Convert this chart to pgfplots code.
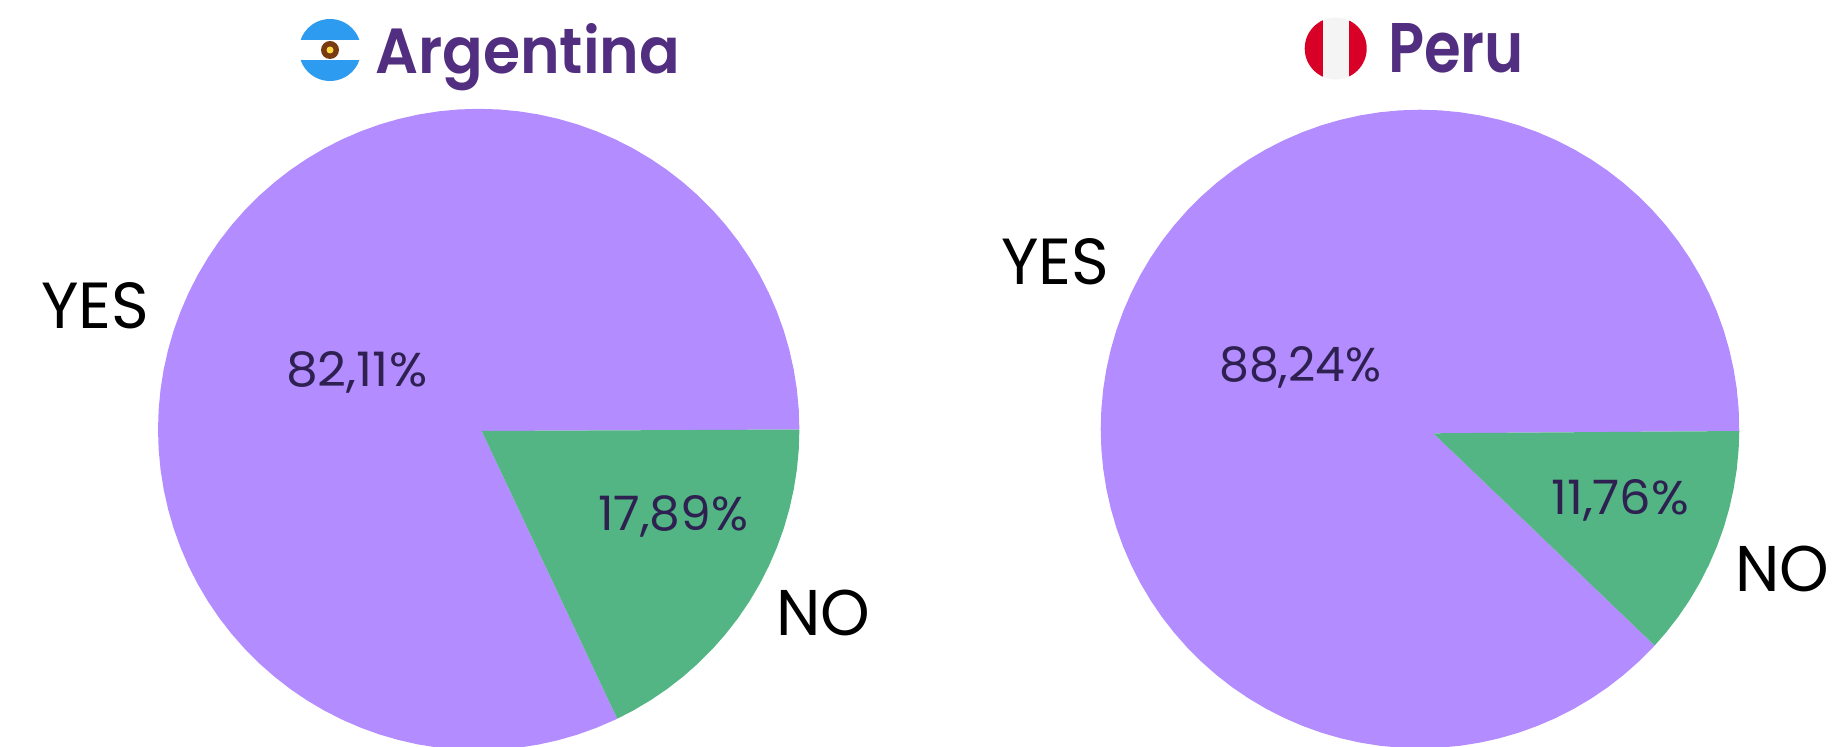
\documentclass[border=0pt]{standalone}
\usepackage{graphicx}
\usepackage{pgfplots}
\usepackage{pgfplotstable}
\usepackage{fontspec}
\pgfplotsset{compat=1.18}
\setmainfont{Poppins}
\newfontfamily\titlefont{Poppins SemiBold}
\definecolor{yescol}{HTML}{B38CFF}
\definecolor{nocol}{HTML}{53B584}
\definecolor{titlecol}{HTML}{522E80}
\definecolor{valcol}{HTML}{2E2152}
\definecolor{skyblue}{HTML}{2D9CF0}
\definecolor{sunbrown}{HTML}{7A3A10}
\definecolor{sunyellow}{HTML}{FFDA44}
\definecolor{perured}{HTML}{D80027}
\definecolor{peruwhite}{HTML}{F4F4F4}

% Slice outlines: share of the pie in percent, radius as a fraction of the pie.
% The first row of each table is where the two slices meet.
\pgfplotstableread[row sep=\\]{
pct r\\
7.39 0.0104\\
0 1\\ 1 1\\ 2 1\\ 3 1\\ 4 1\\ 5 1\\ 6 1\\ 7 1\\ 8 1\\ 9 1\\ 10 1\\ 11 1\\ 12 1\\
13 1\\ 14 1\\ 15 1\\ 16 1\\ 17 1\\ 17.89 1\\
}\argNo
\pgfplotstableread[row sep=\\]{
pct r\\
7.39 0.0104\\
17.89 1\\ 18 1\\ 19 1\\ 20 1\\ 21 1\\ 22 1\\ 23 1\\ 24 1\\ 25 1\\ 26 1\\ 27 1\\ 28 1\\
29 1\\ 30 1\\ 31 1\\ 32 1\\ 33 1\\ 34 1\\ 35 1\\ 36 1\\ 37 1\\ 38 1\\ 39 1\\ 40 1\\
41 1\\ 42 1\\ 43 1\\ 44 1\\ 45 1\\ 46 1\\ 47 1\\ 48 1\\ 49 1\\ 50 1\\ 51 1\\ 52 1\\
53 1\\ 54 1\\ 55 1\\ 56 1\\ 57 1\\ 58 1\\ 59 1\\ 60 1\\ 61 1\\ 62 1\\ 63 1\\ 64 1\\
65 1\\ 66 1\\ 67 1\\ 68 1\\ 69 1\\ 70 1\\ 71 1\\ 72 1\\ 73 1\\ 74 1\\ 75 1\\ 76 1\\
77 1\\ 78 1\\ 79 1\\ 80 1\\ 81 1\\ 82 1\\ 83 1\\ 84 1\\ 85 1\\ 86 1\\ 87 1\\ 88 1\\
89 1\\ 90 1\\ 91 1\\ 92 1\\ 93 1\\ 94 1\\ 95 1\\ 96 1\\ 97 1\\ 98 1\\ 99 1\\ 100 1\\
}\argYes
\pgfplotstableread[row sep=\\]{
pct r\\
4.97 0.0438\\
0.1 1\\ 1 1\\ 2 1\\ 3 1\\ 4 1\\ 5 1\\ 6 1\\ 7 1\\ 8 1\\ 9 1\\ 10 1\\ 11 1\\ 11.86 1\\
}\peruNo
\pgfplotstableread[row sep=\\]{
pct r\\
4.97 0.0438\\
11.86 1\\ 12 1\\ 13 1\\ 14 1\\ 15 1\\ 16 1\\ 17 1\\ 18 1\\ 19 1\\ 20 1\\ 21 1\\ 22 1\\
23 1\\ 24 1\\ 25 1\\ 26 1\\ 27 1\\ 28 1\\ 29 1\\ 30 1\\ 31 1\\ 32 1\\ 33 1\\ 34 1\\
35 1\\ 36 1\\ 37 1\\ 38 1\\ 39 1\\ 40 1\\ 41 1\\ 42 1\\ 43 1\\ 44 1\\ 45 1\\ 46 1\\
47 1\\ 48 1\\ 49 1\\ 50 1\\ 51 1\\ 52 1\\ 53 1\\ 54 1\\ 55 1\\ 56 1\\ 57 1\\ 58 1\\
59 1\\ 60 1\\ 61 1\\ 62 1\\ 63 1\\ 64 1\\ 65 1\\ 66 1\\ 67 1\\ 68 1\\ 69 1\\ 70 1\\
71 1\\ 72 1\\ 73 1\\ 74 1\\ 75 1\\ 76 1\\ 77 1\\ 78 1\\ 79 1\\ 80 1\\ 81 1\\ 82 1\\
83 1\\ 84 1\\ 85 1\\ 86 1\\ 87 1\\ 88 1\\ 89 1\\ 90 1\\ 91 1\\ 92 1\\ 93 1\\ 94 1\\
95 1\\ 96 1\\ 97 1\\ 98 1\\ 99 1\\ 100.1 1\\
}\peruYes

\pgfplotsset{
  pie panel/.style={
    scale only axis, hide axis, clip=true, width=760pt, height=687pt,
    anchor=south west,
  },
  slice/.style={
    data cs=polar, draw=none, fill=#1, no marks,
  },
}
% Text set to an exact width and height: x, baseline y, width, height, content
\newcommand{\TitleText}[5]{\node[anchor=base west,inner sep=0pt,text=titlecol]
  at (#1pt,#2pt) {\resizebox{#3pt}{#4pt}{\titlefont\fontsize{64}{64}\selectfont #5}};}
\newcommand{\ValueText}[5]{\node[anchor=base west,inner sep=0pt,text=valcol]
  at (#1pt,#2pt) {\resizebox{#3pt}{#4pt}{\fontsize{46}{46}\selectfont #5}};}
\newcommand{\NameText}[5]{\node[anchor=base west,inner sep=0pt,text=black]
  at (#1pt,#2pt) {\resizebox{#3pt}{#4pt}{\fontsize{60}{60}\selectfont #5}};}

\begin{document}
\begin{tikzpicture}[x=1pt,y=1pt]
\useasboundingbox (0,0) rectangle (1845,747);

% Argentina
\begin{axis}[pie panel, at={(100pt,0pt)},
  xmin=-1.1809, xmax=1.1890, ymin=-0.9900, ymax=1.1522]
  \addplot[slice=yescol] table[x expr=-3.6*\thisrow{pct}, y=r] {\argYes};
  \addplot[slice=nocol] table[x expr=-3.6*\thisrow{pct}, y=r] {\argNo};
\end{axis}

% Peru
\begin{axis}[pie panel, at={(1040pt,0pt)},
  xmin=-1.1901, xmax=1.1901, ymin=-0.9959, ymax=1.1557]
  \addplot[slice=yescol] table[x expr=-3.6*\thisrow{pct}, y=r] {\peruYes};
  \addplot[slice=nocol] table[x expr=-3.6*\thisrow{pct}, y=r] {\peruNo};
\end{axis}

% Flag of Argentina
\begin{scope}
  \clip (330,697) circle (31);
  \fill[skyblue] (295,707) rectangle (365,730);
  \fill[skyblue] (295,687) rectangle (365,664);
\end{scope}
\fill[sunbrown] (330,697) circle (9);
\fill[sunyellow] (330,697) circle (3.5);

% Flag of Peru
\begin{scope}
  \clip (1335.7,698.5) circle (31);
  \fill[perured] (1300,660) rectangle (1323,740);
  \fill[peruwhite] (1323,660) rectangle (1349,740);
  \fill[perured] (1349,660) rectangle (1370,740);
\end{scope}

\TitleText{375}{673}{305}{50}{Argentina}
\TitleText{1388}{674.3}{136}{49}{Peru}

\NameText{41}{418}{108}{46}{YES}
\NameText{1001}{462.7}{108}{46}{YES}
\NameText{776}{111.3}{94}{45.5}{NO}
\NameText{1735}{155.3}{94}{45.5}{NO}

\ValueText{286}{360}{141}{35}{82,11\%}
\ValueText{1219}{365.3}{162}{35}{88,24\%}
\ValueText{598}{216.3}{150}{35}{17,89\%}
\ValueText{1551}{232}{138}{35}{11,76\%}
\end{tikzpicture}
\end{document}
